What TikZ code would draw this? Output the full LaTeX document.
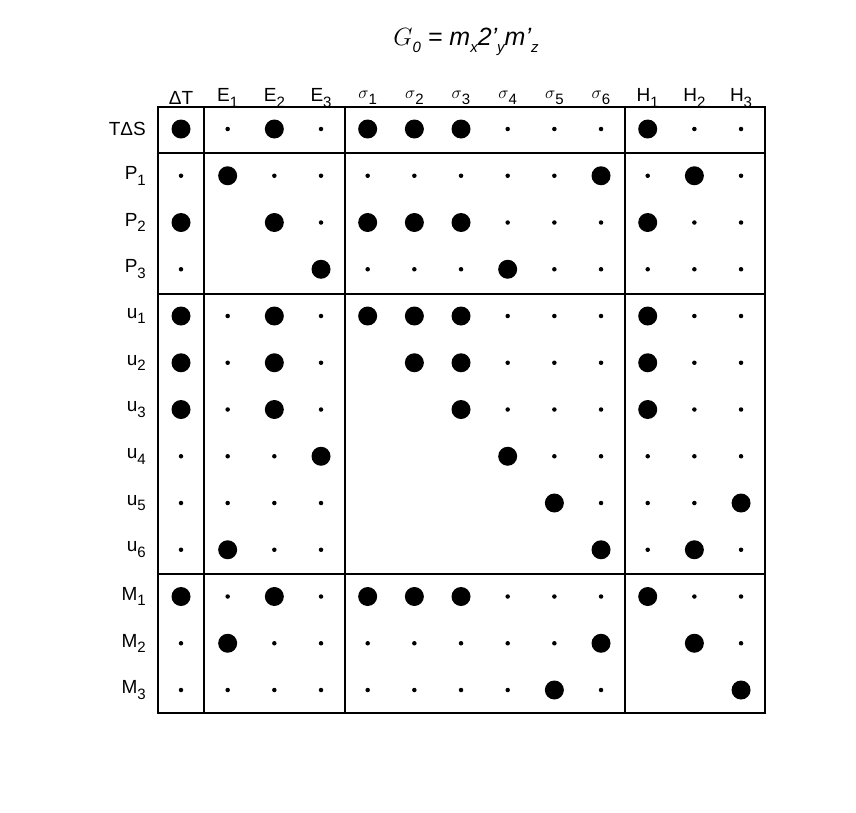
\documentclass[tikz,border=0pt]{standalone}
\usepackage{fontspec}
\setmainfont{Liberation Sans}
\newcommand{\sbs}[1]{\raisebox{-0.55ex}{\fontsize{15}{15}\selectfont #1}}
\begin{document}
\begin{tikzpicture}[x=1pt,y=-1pt,
  big/.style={circle,fill=black,inner sep=0pt,minimum size=19pt},
  small/.style={circle,fill=black,inner sep=0pt,minimum size=4.5pt},
  lbl/.style={font=\fontsize{19}{19}\selectfont,inner sep=0pt},
  frame/.style={line width=2.8pt}]
\useasboundingbox (0,0) rectangle (856,812);
\node[lbl,font=\fontsize{25}{25}\selectfont\itshape] (title) at (466,42) {$G$\sbs{0} = m\sbs{x}2'\sbs{y}m'\sbs{z}};
\foreach \h [count=\j] in {ΔT,E\sbs{1},E\sbs{2},E\sbs{3},$\sigma$\sbs{1},$\sigma$\sbs{2},$\sigma$\sbs{3},$\sigma$\sbs{4},$\sigma$\sbs{5},$\sigma$\sbs{6},H\sbs{1},H\sbs{2},H\sbs{3}}
  \node[lbl] (h\j) at ({181+46.67*(\j-1)},98) {\h};
\foreach \l [count=\i] in {TΔS,P\sbs{1},P\sbs{2},P\sbs{3},u\sbs{1},u\sbs{2},u\sbs{3},u\sbs{4},u\sbs{5},u\sbs{6},M\sbs{1},M\sbs{2},M\sbs{3}}
  \node[lbl,anchor=east] (r\i) at (146,{129+46.75*(\i-1)}) {\l};
\foreach \r [count=\i] in {
 {B,s,B,s,B,B,B,s,s,s,B,s,s},
 {s,B,s,s,s,s,s,s,s,B,s,B,s},
 {B,n,B,s,B,B,B,s,s,s,B,s,s},
 {s,n,n,B,s,s,s,B,s,s,s,s,s},
 {B,s,B,s,B,B,B,s,s,s,B,s,s},
 {B,s,B,s,n,B,B,s,s,s,B,s,s},
 {B,s,B,s,n,n,B,s,s,s,B,s,s},
 {s,s,s,B,n,n,n,B,s,s,s,s,s},
 {s,s,s,s,n,n,n,n,B,s,s,s,B},
 {s,B,s,s,n,n,n,n,n,B,s,B,s},
 {B,s,B,s,B,B,B,s,s,s,B,s,s},
 {s,B,s,s,s,s,s,s,s,B,n,B,s},
 {s,s,s,s,s,s,s,s,B,s,n,n,B}}{
  \foreach \c [count=\j] in \r {
    \if\c B \node[big] (d-\i-\j) at ({181+46.67*(\j-1)},{129+46.75*(\i-1)}) {};\fi
    \if\c s \node[small] (d-\i-\j) at ({181+46.67*(\j-1)},{129+46.75*(\i-1)}) {};\fi
  }
}
\draw[frame] (158,107) rectangle (765,713);
\foreach \x in {204,345,625} \draw[frame] (\x,107) -- (\x,713);
\foreach \y in {153,294,574} \draw[frame] (158,\y) -- (765,\y);
\end{tikzpicture}
\end{document}
